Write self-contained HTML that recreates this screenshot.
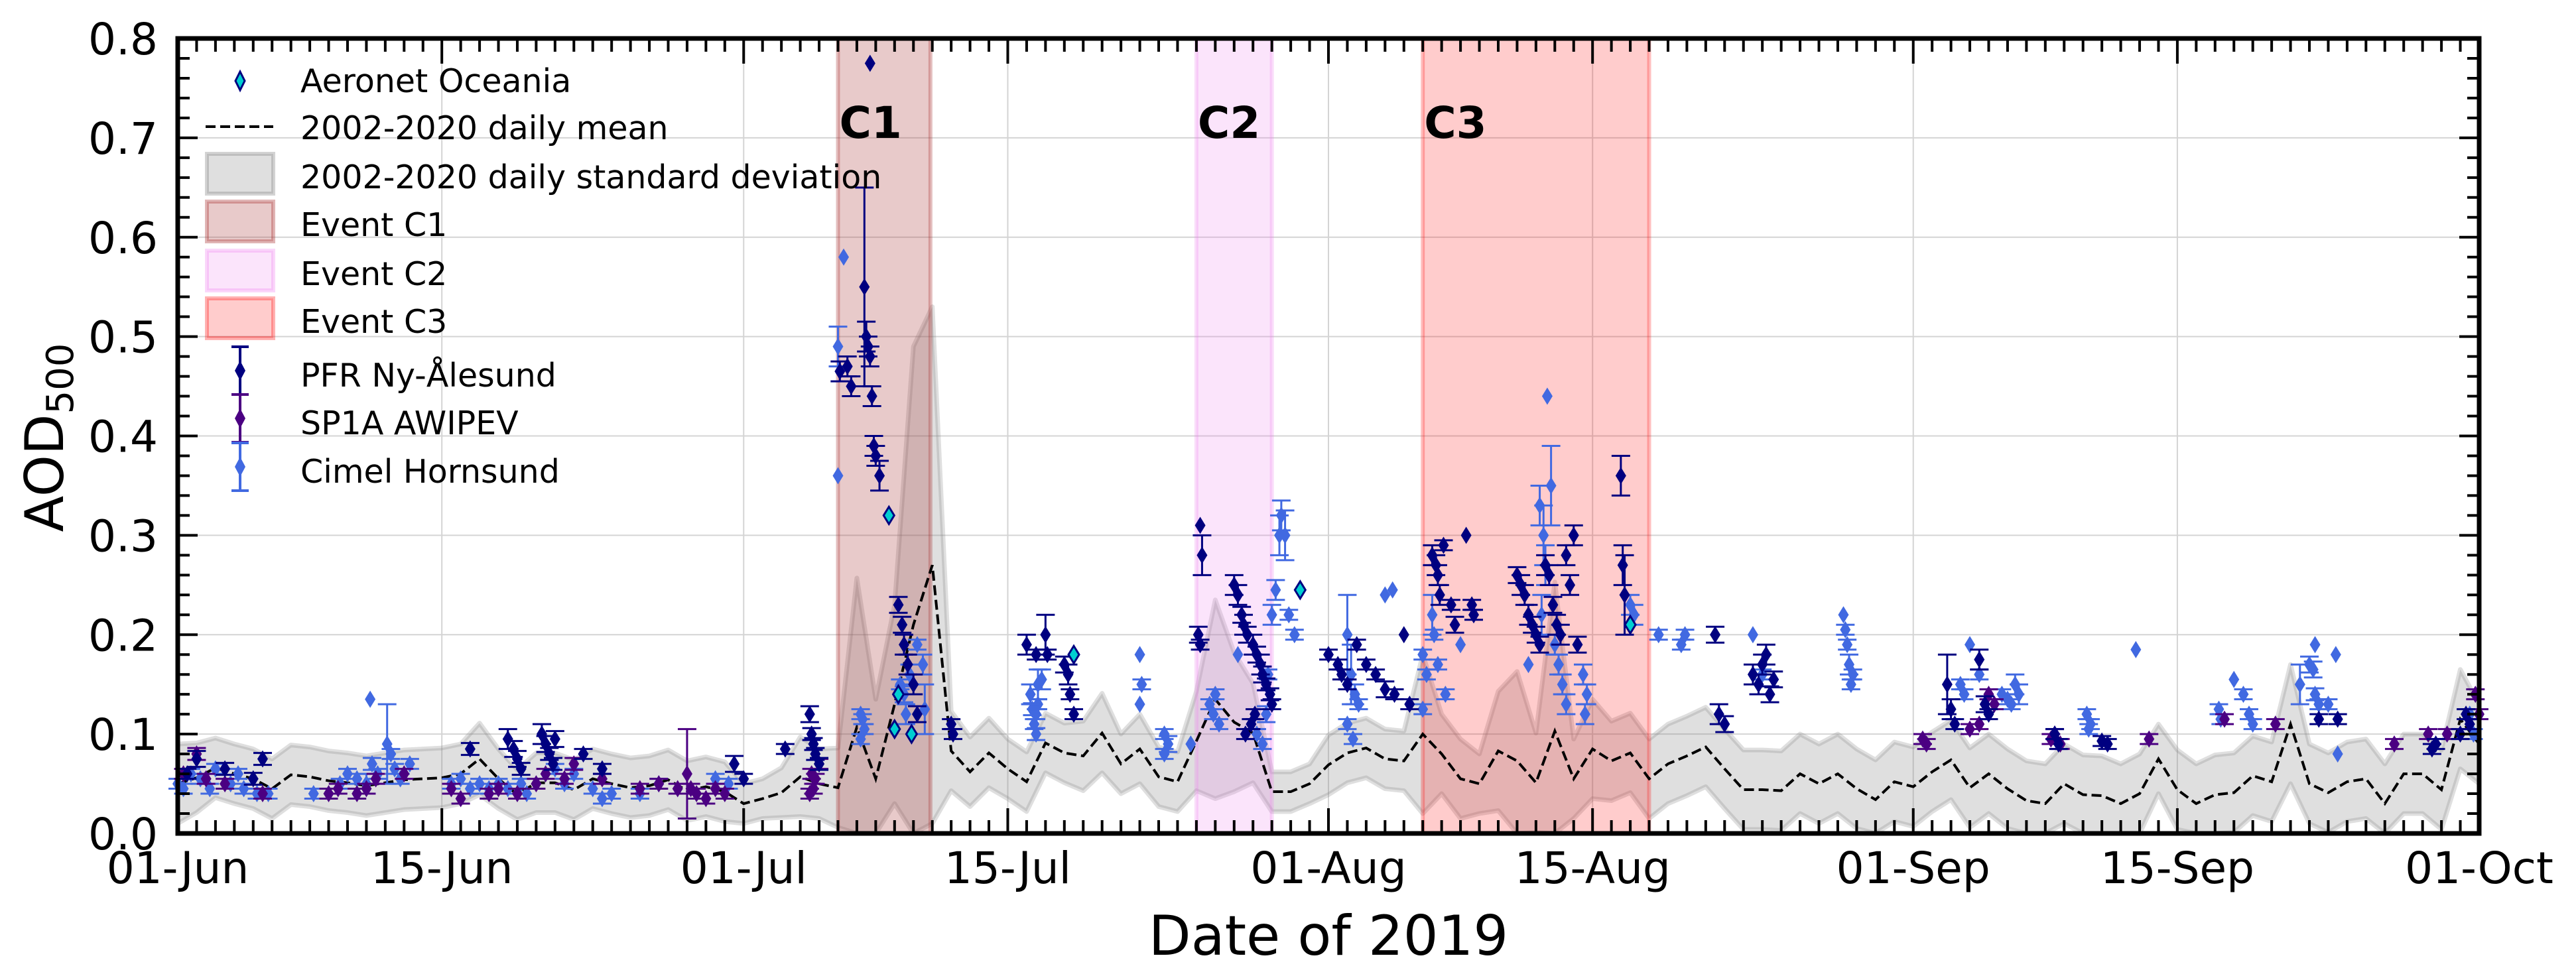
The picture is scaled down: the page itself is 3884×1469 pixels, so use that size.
<!DOCTYPE html>
<html><head><meta charset="utf-8"><title>AOD500 time series, summer 2019</title>
<style>
html,body{margin:0;padding:0;background:#fff;}
svg{display:block;font-family:"DejaVu Sans","Liberation Sans",sans-serif;}
</style></head>
<body>
<svg id="chart" xmlns="http://www.w3.org/2000/svg" width="3884" height="1469" viewBox="0 0 3884 1469">
<rect x="0" y="0" width="3884" height="1469" fill="#fff"/>
<g id="grid"></g>
<g id="band"></g>
<g id="events"></g>
<g id="meanline"></g>
<g id="points"></g>
<g id="axes"></g>
<g id="legend"></g>
</svg>
<script>
// ---- data ----
const tickLabelsX = ["01-Jun","15-Jun","01-Jul","15-Jul","01-Aug","15-Aug","01-Sep","15-Sep","01-Oct"];
const tickDaysX = [0,14,30,44,61,75,92,106,122];
const tickLabelsY = ["0.0","0.1","0.2","0.3","0.4","0.5","0.6","0.7","0.8"];
const eventNames = ["C1","C2","C3"];
const eventStart = [35,54,66];
const eventEnd = [39.9,58,78];
const meanValues = [
.05,.056,.066,.06,.055,.045,.059,.057,.053,.051,
.048,.051,.054,.055,.056,.06,.075,.055,.039,.051,
.051,.044,.055,.05,.046,.048,.054,.043,.047,.042,
.03,.035,.041,.057,.05,.046,.107,.055,.13,.21,
.27,.083,.062,.081,.065,.052,.091,.081,.078,.101,
.07,.085,.057,.052,.093,.135,.112,.101,.042,.042,
.05,.069,.081,.086,.075,.073,.1,.08,.055,.05,
.083,.073,.051,.103,.055,.085,.073,.081,.055,.07,
.078,.087,.065,.044,.044,.043,.06,.05,.06,.045,
.034,.052,.047,.062,.074,.046,.06,.045,.033,.03,
.05,.039,.038,.03,.04,.075,.044,.03,.039,.041,
.058,.052,.11,.05,.041,.052,.055,.03,.06,.06,
.044,.115,.09];
const stdValues = [
.04,.035,.03,.03,.03,.03,.03,.03,.03,.03,
.03,.03,.03,.03,.03,.03,.036,.03,.025,.03,
.03,.03,.03,.03,.03,.03,.03,.03,.03,.03,
.02,.02,.025,.04,.035,.04,.15,.08,.1,.28,
.26,.04,.035,.035,.03,.03,.03,.03,.035,.04,
.03,.035,.03,.03,.05,.1,.07,.05,.02,.02,
.02,.03,.03,.03,.03,.03,.08,.04,.04,.03,
.06,.09,.05,.15,.04,.05,.04,.04,.04,.04,
.04,.04,.04,.04,.04,.04,.04,.04,.04,.04,
.04,.04,.04,.04,.04,.04,.04,.04,.04,.04,
.04,.04,.04,.04,.04,.035,.04,.04,.04,.04,
.04,.04,.06,.04,.04,.04,.04,.04,.04,.04,
.04,.05,.04];
const pfrDays=[0.5,1,2.5,4,4.5,15.5,17.5,17.8,18,18.2,19.3,19.5,19.7,19.9,20,21.5,22.5,29.5,30,32.2,33.5,33.6,33.7,33.8,34,35.1,35.5,35.7,36.4,36.5,36.6,36.7,36.8,36.9,37,37.2,36.7,38.2,38.4,38.5,38.7,39,39.2,41,41.1,45,45.5,46,46.1,47,47.2,47.3,47.5,54.2,54.3,54.1,54.2,56,56.2,56.4,56.5,56.7,57,57.2,57.4,57.5,57.7,57.9,58,57.1,56.9,56.6,61,61.5,61.7,62,62.5,63,63.5,64,64.5,65,65.3,66.5,66.7,66.8,66.9,67.1,67.5,67.7,68.3,68.6,68.7,71,71.2,71.4,71.6,71.8,72,72.2,72.5,72.7,72.9,73.1,73.3,73.6,73.8,74,74.2,76.5,76.6,76.7,81.5,81.7,82,83.5,83.8,84,84.2,84.4,84.6,93.8,94,94.2,95.5,95.8,96,99.5,99.7,102,102.3,113.5,114.5,119.5,119.7,121,121.3,121.5];
const pfrVals=[.06,.075,.065,.055,.075,.085,.095,.085,.075,.065,.1,.09,.08,.07,.095,.08,.065,.07,.055,.085,.12,.1,.09,.08,.07,.465,.47,.45,.55,.5,.49,.48,.44,.39,.38,.36,.775,.23,.21,.19,.17,.15,.12,.11,.1,.19,.18,.2,.18,.17,.16,.14,.12,.31,.28,.2,.19,.25,.24,.22,.21,.2,.19,.18,.17,.16,.15,.14,.13,.12,.11,.1,.18,.17,.16,.15,.19,.17,.16,.145,.14,.2,.13,.28,.27,.26,.24,.29,.23,.21,.3,.23,.22,.26,.25,.24,.22,.21,.2,.19,.27,.26,.23,.21,.2,.28,.25,.3,.19,.36,.27,.24,.2,.12,.11,.16,.15,.17,.18,.14,.155,.15,.125,.11,.175,.13,.12,.1,.09,.093,.09,.115,.115,.085,.09,.1,.12,.11];
const pfrErr=[.005,.008,.006,.006,.006,.006,.01,.008,.008,.006,.01,.008,.006,.006,.008,.005,.005,.008,.005,.005,.008,.006,.006,.006,.006,.01,.01,.01,.1,.015,.01,.01,.01,.01,.01,.015,0,.008,.008,.01,.01,.01,.008,.005,.005,.01,.005,.02,.005,.008,.01,.005,.005,0,.02,.008,.005,.01,.01,.008,.01,.008,.01,.008,.01,.008,.006,.006,.005,.005,.005,.005,.005,.005,.005,.005,.005,.005,.005,.008,.005,0,.005,.01,.01,.01,.01,.005,.005,.008,0,.005,.005,.008,.01,.01,.01,.008,.008,.008,.01,.01,.008,.01,.01,.01,.01,.01,.008,.02,.02,.04,.008,.01,.008,.01,.01,.01,.01,.008,.008,.03,.01,.005,.01,.008,.005,.005,.005,.005,.005,.005,.005,.005,.005,.005,.005,.005];
const spDays=[0.3,1,1.5,2.5,4.5,8,8.5,9.5,10,10.5,12,14.5,15,16.5,17,18,19,19.5,20.5,21,22.5,24.5,25.5,26.5,27,27.2,27.5,28,28.5,29,33.6,33.8,33.7,33.5,34,92.5,92.7,95,95.5,96,96.3,99.3,99.5,99.8,104.5,108.5,111.2,117.5,119.3,120.3,121.8,122];
const spVals=[.06,.08,.055,.05,.04,.04,.045,.04,.045,.055,.06,.045,.035,.04,.045,.04,.05,.06,.055,.07,.055,.045,.05,.045,.06,.045,.04,.035,.045,.04,.06,.055,.045,.04,.07,.095,.09,.105,.11,.14,.13,.095,.1,.09,.095,.115,.11,.09,.1,.1,.14,.12];
const spErr=[.005,.006,.005,.005,.005,.005,.005,.005,.005,.005,.005,.005,.005,.005,.005,.005,.005,.005,.005,.006,.005,.005,.005,.005,.045,.005,.005,.005,.005,.005,.005,.005,.005,.005,.005,.005,.005,.005,.005,.005,.005,.005,.005,.005,.005,.005,.005,.005,.005,.005,.005,.005];
const cimDays=[0,0.3,0.7,1.2,1.7,2,2.8,3.2,3.5,4.2,4.8,7.2,8.6,9,9.5,10,10.3,10.6,11.1,11.3,11.5,11.8,12.3,10.2,14.5,15,15.5,16,16.5,17,17.5,18.2,18.5,20,20.5,21,22,22.5,23,24.5,25.5,28.5,29.2,35,35.3,35,36.2,36.3,36.4,36.2,38.3,38.5,38.6,38.8,39.2,39.5,39.6,45.3,45.5,45.4,45.6,45.2,45.6,45.8,45.5,51,51.1,51,52.3,52.5,52.3,53.7,54.7,54.9,55,55.2,56.2,57.2,57.5,57.7,57.8,58,58.2,58.4,58.5,58.7,58.9,59.2,62,62.2,62.4,62.6,62,62.3,64,64.4,66,66.2,66.5,66.6,66.8,67.2,66,68,71.6,72.2,72.4,72.5,72.3,72.6,72.8,73,73.2,73.4,73.6,74.5,74.7,74.6,77,77.2,78.5,79.7,79.9,83.5,84,88.3,88.4,88.5,88.6,88.8,88.7,94.5,94.7,95,95.5,96.7,97,97.2,97.4,97.6,101.2,101.4,101.3,103.8,108.2,108.3,109,109.5,109.8,110,112.5,113,113.2,113.3,113.5,113.3,114,114.4,114.5,121.5,121.7];
const cimVals=[.05,.045,.06,.055,.045,.065,.05,.06,.045,.04,.04,.04,.05,.06,.055,.05,.07,.06,.09,.08,.065,.055,.07,.135,.05,.055,.045,.05,.045,.05,.045,.05,.04,.065,.05,.06,.045,.035,.04,.04,.05,.055,.05,.49,.58,.36,.12,.115,.105,.095,.15,.14,.12,.16,.19,.17,.125,.125,.12,.11,.13,.14,.15,.155,.1,.18,.15,.13,.1,.09,.08,.09,.13,.12,.14,.11,.18,.1,.09,.12,.16,.22,.245,.3,.32,.3,.22,.2,.2,.16,.14,.13,.11,.095,.24,.245,.18,.16,.22,.2,.17,.14,.125,.19,.17,.33,.3,.27,.22,.44,.35,.19,.17,.15,.13,.16,.14,.12,.23,.22,.2,.19,.2,.2,.16,.22,.205,.19,.17,.16,.15,.15,.14,.19,.16,.14,.135,.13,.15,.14,.12,.11,.105,.185,.125,.115,.155,.14,.12,.11,.15,.17,.165,.14,.13,.19,.13,.18,.08,.12,.1];
const cimErr=[.005,.005,.005,.005,.005,.005,.005,.005,.005,.005,.005,.005,.005,.005,.005,.01,.006,.005,.04,.005,.005,.005,.005,0,.005,.005,.005,.005,.005,.005,.005,.005,.005,.005,.005,.005,.005,.005,.005,.005,.005,.005,.005,.02,0,0,.005,.005,.005,.005,.005,.008,.01,.01,.005,.01,.025,.006,.005,.005,.005,.01,.015,.01,.006,0,.005,0,.005,.008,.005,0,.005,.005,.005,.005,0,.005,.005,.008,.005,.01,.01,.02,.015,.025,.005,.005,.04,.03,.01,.005,.005,.005,0,0,.005,.005,.02,.005,.005,.005,.005,0,0,.02,.03,.02,.02,0,.04,.01,.01,.01,.01,.01,.01,.01,.01,.01,.005,.005,.005,0,.005,0,.005,.005,.01,.005,.005,.005,.005,0,.005,.005,.005,.005,.01,.01,.005,.005,.005,0,.005,.005,0,.005,.005,.005,.02,.008,.008,.006,.005,0,.005,0,0,.005,.005];
const aerDays=[37.7,38.2,38.9,38,47.5,59.5,77];
const aerVals=[.32,.14,.1,.105,.18,.245,.21];

// ---- geometry ----
const X0=268,X1=3738,Y0=1257,Y1=58, DMAX=122, VMAX=0.8;
const xs=d=>X0+(X1-X0)*d/DMAX;
const ys=v=>Y0-(Y0-Y1)*v/VMAX;
const NS="http://www.w3.org/2000/svg";
function mk(tag,attrs,parent){const e=document.createElementNS(NS,tag);for(const k in attrs)e.setAttribute(k,attrs[k]);parent.appendChild(e);return e;}
const G=id=>document.getElementById(id);

// grid
const grid=G('grid');
for(let i=1;i<tickDaysX.length-1;i++){const l=mk('line',{x1:xs(tickDaysX[i]),x2:xs(tickDaysX[i]),y1:Y1,y2:Y0,stroke:'#d4d4d4','stroke-width':2},grid);

}
for(let i=1;i<tickLabelsY.length-1;i++){const v=parseFloat(tickLabelsY[i]);const l=mk('line',{x1:X0,x2:X1,y1:ys(v),y2:ys(v),stroke:'#d4d4d4','stroke-width':2},grid);

}

// std band
const band=G('band');
let up=[],lo=[];
for(let i=0;i<meanValues.length;i++){up.push(xs(i)+','+ys(meanValues[i]+stdValues[i]));lo.unshift(xs(i)+','+ys(Math.max(0,meanValues[i]-stdValues[i])));}
const bp=mk('polygon',{points:up.concat(lo).join(' '),fill:'rgb(128,128,128)','fill-opacity':0.25,stroke:'rgb(128,128,128)','stroke-opacity':0.25,'stroke-width':7,'stroke-linejoin':'round'},band);



// events
const ev=G('events');
const evFill=['#a52a2a','#ee82ee','#ff0000'];
const evOp=[0.25,0.22,0.2];
for(let i=0;i<eventNames.length;i++){
 const r=mk('rect',{x:xs(eventStart[i]),y:Y1,width:xs(eventEnd[i])-xs(eventStart[i]),height:Y0-Y1,fill:evFill[i],'fill-opacity':evOp[i],stroke:evFill[i],'stroke-opacity':evOp[i]+0.05,'stroke-width':6},ev);
 
 
 const t=mk('text',{x:xs(eventStart[i])+2,y:208,'font-size':66,'font-weight':'bold',fill:'#000'},ev);
 t.textContent=eventNames[i];
 
 
}

// mean line
const ml=mk('polyline',{points:meanValues.map((v,i)=>xs(i)+','+ys(v)).join(' '),fill:'none',stroke:'#000','stroke-width':4,'stroke-dasharray':'15 7'},G('meanline'));



// points
const pts=G('points');
function diamond(cx,cy,w,h){return `${cx},${cy-h} ${cx+w},${cy} ${cx},${cy+h} ${cx-w},${cy}`;}
function series(days,vals,errs,color,name){
 const g=mk('g',{},pts);
 
 
 for(let i=0;i<days.length;i++){
  const cx=xs(days[i]),cy=ys(vals[i]);
  if(errs && errs[i]>0){
   const a=ys(vals[i]+errs[i]),b=ys(vals[i]-errs[i]);
   const e=mk('path',{d:`M${cx},${a}V${b}M${cx-14},${a}H${cx+14}M${cx-14},${b}H${cx+14}`,stroke:color,'stroke-width':3,fill:'none'},g);
   
   
  }
  const p=mk('polygon',{points:diamond(cx,cy,8,13),fill:color},g);
  
  
 }
}
series(cimDays,cimVals,cimErr,'#4169E1','cimel-hornsund');
series(spDays,spVals,spErr,'#4B0082','sp1a-awipev');
series(pfrDays,pfrVals,pfrErr,'#000080','pfr-ny-alesund');
{
 const g=mk('g',{},pts);
 
 
 for(let i=0;i<aerDays.length;i++){
  const p=mk('polygon',{points:diamond(xs(aerDays[i]),ys(aerVals[i]),8,13),fill:'#00CED1',stroke:'#000080','stroke-width':3},g);
  
  
 }
}

// axes
const ax=G('axes');
const frame=mk('rect',{x:X0,y:Y1,width:X1-X0,height:Y0-Y1,fill:'none',stroke:'#000','stroke-width':7},ax);


let tk='';
for(let d=0;d<=DMAX;d++){const major=tickDaysX.indexOf(d)>=0;const L=major?38:20;const x=xs(d);tk+=`M${x},${Y0}V${Y0-L}M${x},${Y1}V${Y1+L}`;}
for(let k=0;k<=40;k++){const v=k*0.02;const y=ys(v);const L=(k%5===0)?30:18;tk+=`M${X0},${y}H${X0+L}M${X1},${y}H${X1-L}`;}
const tp=mk('path',{d:tk,stroke:'#000','stroke-width':4,fill:'none'},ax);


for(let i=0;i<tickLabelsX.length;i++){
 const t=mk('text',{x:xs(tickDaysX[i]),y:1332,'font-size':66,'text-anchor':'middle',fill:'#000'},ax);
 t.textContent=tickLabelsX[i];
 
 
}
for(let i=0;i<tickLabelsY.length;i++){
 const t=mk('text',{x:238,y:ys(parseFloat(tickLabelsY[i]))+24,'font-size':66,'text-anchor':'end',fill:'#000'},ax);
 t.textContent=tickLabelsY[i];
 
 
}
const xt=mk('text',{x:(X0+X1)/2,y:1440,'font-size':83,'text-anchor':'middle',fill:'#000'},ax);
xt.textContent='Date of 2019';


const yt=mk('text',{x:0,y:0,'font-size':80,'text-anchor':'middle',fill:'#000',transform:'translate(95,660) rotate(-90)'},ax);


const t1=mk('tspan',{},yt);t1.textContent='AOD';
const t2=mk('tspan',{'font-size':56,dy:15},yt);t2.textContent='500';

// legend
const lg=G('legend');
const rows=[125,196,270,342,416,488,569,641,714];
const labels=['Aeronet Oceania','2002-2020 daily mean','2002-2020 daily standard deviation','Event C1','Event C2','Event C3','PFR Ny-Ålesund','SP1A AWIPEV','Cimel Hornsund'];
const hx=362;
for(let i=0;i<labels.length;i++){
 const y=rows[i];
 const g=mk('g',{},lg);
 
 
 if(i===0){mk('polygon',{points:diamond(hx,y-3,7,14),fill:'#00CED1',stroke:'#000080','stroke-width':3},g);}
 else if(i===1){mk('line',{x1:310,x2:412,y1:y-5,y2:y-5,stroke:'#000','stroke-width':4,'stroke-dasharray':'15 7'},g);}
 else if(i<=5){
  const f=['#808080','#a52a2a','#ee82ee','#ff0000'][i-2];const o=[0.25,0.25,0.22,0.2][i-2];
  mk('rect',{x:312,y:y-38,width:100,height:60,fill:f,'fill-opacity':o,stroke:f,'stroke-opacity':o+0.1,'stroke-width':6},g);
 } else {
  const c=['#000080','#4B0082','#4169E1'][i-6];
  mk('path',{d:`M${hx},${y-46}V${y+26}M${hx-13},${y-46}H${hx+13}M${hx-13},${y+26}H${hx+13}`,stroke:c,'stroke-width':4,fill:'none'},g);
  mk('polygon',{points:diamond(hx,y-10,8,15),fill:c},g);
 }
 const t=mk('text',{x:453,y:y+14,'font-size':49,fill:'#000'},g);
 t.textContent=labels[i];
}
</script>
</body></html>
